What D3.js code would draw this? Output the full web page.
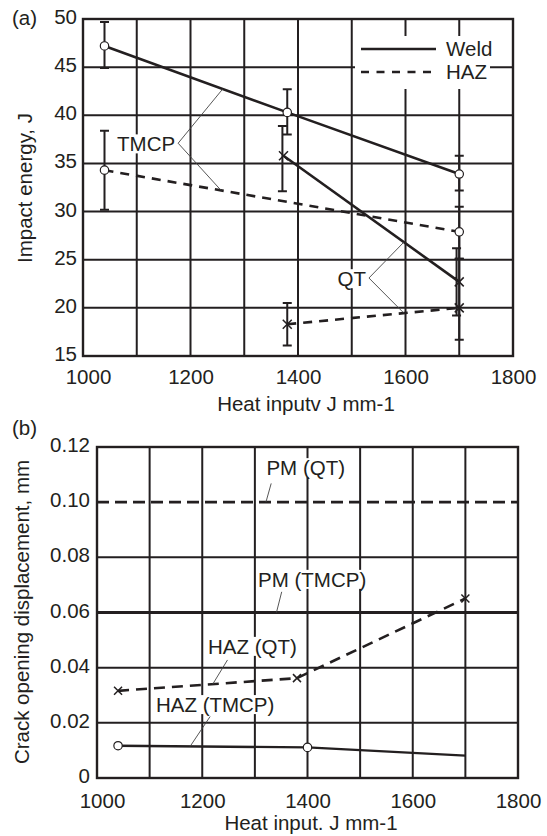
<!DOCTYPE html>
<html><head><meta charset="utf-8">
<script src="https://cdn.jsdelivr.net/npm/d3@7"></script>
<style>
html,body{margin:0;padding:0;background:#fff;}
svg{display:block;}
text{font-family:"Liberation Sans",Arial,Helvetica,sans-serif;fill:#231f20;}
</style></head>
<body><svg id="c" width="547" height="836"></svg>
<script>
// ---------- DATA: panel (a) ----------
const xTicksA = [1000,1200,1400,1600,1800];
const yTicksA = [15,20,25,30,35,40,45,50];
const tmcpWeldX = [1040,1380,1700];
const tmcpWeldY = [47.2,40.3,33.9];
const tmcpWeldLo = [44.9,38.0,32.2];
const tmcpWeldHi = [49.7,42.7,35.8];
const tmcpHazX = [1040,1700];
const tmcpHazY = [34.3,27.9];
const tmcpHazLo = [30.2,25.1];
const tmcpHazHi = [38.4,30.5];
const qtWeldX = [1373,1700];
const qtWeldY = [35.8,22.7];
const qtWeldErrX = [1371,1695];
const qtWeldLo = [32.1,19.2];
const qtWeldHi = [38.9,26.2];
const qtHazX = [1380,1700];
const qtHazY = [18.3,20.0];
const qtHazLo = [16.1,16.7];
const qtHazHi = [20.5,25.1];
const legendLabels = ["Weld","HAZ"];
// ---------- DATA: panel (b) ----------
const xTicksB = [1000,1200,1400,1600,1800];
const yTicksB = [0,0.02,0.04,0.06,0.08,0.10,0.12];
const yTickLabelsB = ["0","0.02","0.04","0.06","0.08","0.10","0.12"];
const pmQT = 0.10;
const pmTMCP = 0.06;
const hazQTX = [1040,1380,1700];
const hazQTY = [0.0316,0.0362,0.0651];
const hazTMCPX = [1040,1400,1700];
const hazTMCPY = [0.0117,0.0111,0.0081];
const hazTMCPMarked = [true,true,false];

const ink = "#231f20";
const svg = d3.select("#c");
const FS = 20.5;

function panelFrame(g, x, y, xGrid, yGrid){
  g.selectAll(".vg").data(xGrid).join("line")
    .attr("x1",d=>x(d)).attr("x2",d=>x(d)).attr("y1",y.range()[0]).attr("y2",y.range()[1])
    .attr("stroke",ink).attr("stroke-width",2);
  g.selectAll(".hg").data(yGrid).join("line")
    .attr("y1",d=>y(d)).attr("y2",d=>y(d)).attr("x1",x.range()[0]).attr("x2",x.range()[1])
    .attr("stroke",ink).attr("stroke-width",2);
}
function frame(g,x,y){
  g.append("rect").attr("x",x.range()[0]).attr("y",y.range()[1])
    .attr("width",x.range()[1]-x.range()[0]).attr("height",y.range()[0]-y.range()[1])
    .attr("fill","none").attr("stroke",ink).attr("stroke-width",2.4);
}
function labelBox(g, txt, xPos, yPos, anchor){
  const t = g.append("text").attr("x",xPos).attr("y",yPos).attr("dy","0.35em")
    .attr("text-anchor",anchor||"start").attr("font-size",FS).text(txt);
  const b = t.node().getBBox();
  g.insert("rect", function(){return t.node();})
    .attr("x",b.x-1).attr("y",b.y+2).attr("width",b.width+2).attr("height",b.height-4).attr("fill","#fff");
  return t;
}
function styleAxis(sel){
  sel.select(".domain").remove();
  sel.selectAll("text").attr("font-size",FS).attr("fill",ink)
     .style("font-family",'"Liberation Sans",Arial,sans-serif');
}
function cross(g, px, py, s){
  g.append("path").attr("d",`M${px-s},${py-s}L${px+s},${py+s}M${px-s},${py+s}L${px+s},${py-s}`)
   .attr("stroke",ink).attr("stroke-width",1.5).attr("fill","none");
}
function circ(g, px, py){
  g.append("circle").attr("cx",px).attr("cy",py).attr("r",4.2)
   .attr("fill","#fff").attr("stroke",ink).attr("stroke-width",1.2);
}
function errBar(g, px, lo, hi, y){
  const w=4.5;
  g.append("path").attr("d",`M${px},${y(hi)}L${px},${y(lo)}M${px-w},${y(hi)}L${px+w},${y(hi)}M${px-w},${y(lo)}L${px+w},${y(lo)}`)
   .attr("stroke",ink).attr("stroke-width",2).attr("fill","none");
}

// ================= PANEL (a) =================
const xA = d3.scaleLinear().domain([1000,1800]).range([83,513]);
const yA = d3.scaleLinear().domain([15,50]).range([356,19]);
const gA = svg.append("g");
panelFrame(gA, xA, yA, d3.range(1100,1800,100), [20,25,30,35,40,45]);

// legend white background
gA.append("rect").attr("x",355).attr("y",36).attr("width",135).attr("height",53).attr("fill","#fff");

const lineA = d3.line().x(d=>xA(d[0])).y(d=>yA(d[1]));
// error bars
tmcpWeldX.forEach((d,i)=>errBar(gA,xA(d),tmcpWeldLo[i],tmcpWeldHi[i],yA));
tmcpHazX.forEach((d,i)=>errBar(gA,xA(d),tmcpHazLo[i],tmcpHazHi[i],yA));
qtWeldErrX.forEach((d,i)=>errBar(gA,xA(d),qtWeldLo[i],qtWeldHi[i],yA));
qtHazX.forEach((d,i)=>errBar(gA,xA(d),qtHazLo[i],qtHazHi[i],yA));

gA.append("path").attr("d",lineA(d3.zip(tmcpWeldX,tmcpWeldY))).attr("fill","none").attr("stroke",ink).attr("stroke-width",2.6);
gA.append("path").attr("d",lineA(d3.zip(tmcpHazX,tmcpHazY))).attr("fill","none").attr("stroke",ink).attr("stroke-width",2.6).attr("stroke-dasharray","9,7");
gA.append("path").attr("d",lineA(d3.zip(qtWeldX,qtWeldY))).attr("fill","none").attr("stroke",ink).attr("stroke-width",2.6);
gA.append("path").attr("d",lineA(d3.zip(qtHazX,qtHazY))).attr("fill","none").attr("stroke",ink).attr("stroke-width",2.6).attr("stroke-dasharray","9,7");

tmcpWeldX.forEach((d,i)=>circ(gA,xA(d),yA(tmcpWeldY[i])));
tmcpHazX.forEach((d,i)=>circ(gA,xA(d),yA(tmcpHazY[i])));
qtWeldX.forEach((d,i)=>cross(gA,xA(d),yA(qtWeldY[i]),4.5));
qtHazX.forEach((d,i)=>cross(gA,xA(d),yA(qtHazY[i]),4.5));

// TMCP / QT callouts
function interp(xs,ys,xv){ return d3.scaleLinear().domain(xs).range(ys)(xv); }
const leadA = [
  {label:"TMCP", apex:[1177,37.1], ends:[[1260,interp(tmcpWeldX.slice(0,2),tmcpWeldY.slice(0,2),1260)],[1257,interp(tmcpHazX,tmcpHazY,1257)]]},
  {label:"QT", apex:[1532,23.1], ends:[[1597,interp(qtWeldX,qtWeldY,1597)],[1597,interp(qtHazX,qtHazY,1597)]]}
];
leadA.forEach(L=>{
  L.ends.forEach(e=>{
    gA.append("line").attr("x1",xA(L.apex[0])).attr("y1",yA(L.apex[1])).attr("x2",xA(e[0])).attr("y2",yA(e[1]))
      .attr("stroke","#444").attr("stroke-width",0.9);
  });
  labelBox(gA, L.label, xA(L.apex[0])-3, yA(L.apex[1])+1, "end");
});

// legend
gA.append("line").attr("x1",361).attr("x2",436).attr("y1",49).attr("y2",49).attr("stroke",ink).attr("stroke-width",2.6);
gA.append("line").attr("x1",361).attr("x2",436).attr("y1",72).attr("y2",72).attr("stroke",ink).attr("stroke-width",2.6).attr("stroke-dasharray","8,7.5");
legendLabels.forEach((t,i)=>gA.append("text").attr("x",446).attr("y",49+i*23).attr("dy","0.35em").attr("font-size",FS).text(t));

frame(gA,xA,yA);

const axA = gA.append("g").attr("transform",`translate(0,356)`)
  .call(d3.axisBottom(xA).tickValues(xTicksA).tickSize(0).tickPadding(13).tickFormat(d3.format("d")));
styleAxis(axA);
axA.select(".tick text").attr("x",5);
const ayA = gA.append("g").attr("transform",`translate(83,0)`)
  .call(d3.axisLeft(yA).tickValues(yTicksA).tickSize(0).tickPadding(6));
styleAxis(ayA);
ayA.selectAll("text").attr("dy","0.22em");

gA.append("text").attr("x",306).attr("y",404).attr("dy","0.35em").attr("text-anchor","middle").attr("font-size",FS).text("Heat inputv J mm-1");
gA.append("text").attr("transform","translate(25,188) rotate(-90)").attr("dy","0.35em").attr("text-anchor","middle").attr("font-size",FS).text("Impact energy, J");
gA.append("text").attr("x",12).attr("y",18).attr("dy","0.35em").attr("font-size",FS).text("(a)");

// ================= PANEL (b) =================
const xB = d3.scaleLinear().domain([1000,1800]).range([97,518]);
const yB = d3.scaleLinear().domain([0,0.12]).range([778,447]);
const gB = svg.append("g");
panelFrame(gB, xB, yB, d3.range(1100,1800,100), [0.02,0.04,0.08]);

const lineB = d3.line().x(d=>xB(d[0])).y(d=>yB(d[1]));
gB.append("path").attr("d",lineB([[1000,pmQT],[1800,pmQT]])).attr("fill","none").attr("stroke",ink).attr("stroke-width",2.6).attr("stroke-dasharray","12,6");
gB.append("path").attr("d",lineB([[1000,pmTMCP],[1800,pmTMCP]])).attr("fill","none").attr("stroke",ink).attr("stroke-width",3.2);
gB.append("path").attr("d",lineB(d3.zip(hazQTX,hazQTY))).attr("fill","none").attr("stroke",ink).attr("stroke-width",2.6).attr("stroke-dasharray","11,7");
gB.append("path").attr("d",lineB(d3.zip(hazTMCPX,hazTMCPY))).attr("fill","none").attr("stroke",ink).attr("stroke-width",2.4);
hazQTX.forEach((d,i)=>cross(gB,xB(d),yB(hazQTY[i]),4));
hazTMCPX.forEach((d,i)=>{ if(hazTMCPMarked[i]) circ(gB,xB(d),yB(hazTMCPY[i])); });

const leadB = [
  {label:"PM (QT)", text:[1322,0.1124], from:[1331,0.1068], to:[1321,pmQT]},
  {label:"PM (TMCP)", text:[1306,0.0719], from:[1351,0.0675], to:[1341,pmTMCP]},
  {label:"HAZ (QT)", text:[1211,0.0476], from:[1248,0.0428], to:[1220,interp(hazQTX.slice(0,2),hazQTY.slice(0,2),1220)]},
  {label:"HAZ (TMCP)", text:[1112,0.0265], from:[1215,0.0223], to:[1177,interp(hazTMCPX.slice(0,2),hazTMCPY.slice(0,2),1177)]}
];
leadB.forEach(L=>{
  gB.append("line").attr("x1",xB(L.from[0])).attr("y1",yB(L.from[1])).attr("x2",xB(L.to[0])).attr("y2",yB(L.to[1]))
    .attr("stroke","#444").attr("stroke-width",0.9);
  labelBox(gB, L.label, xB(L.text[0]), yB(L.text[1]), "start");
});

frame(gB,xB,yB);

const axB = gB.append("g").attr("transform",`translate(0,778)`)
  .call(d3.axisBottom(xB).tickValues(xTicksB).tickSize(0).tickPadding(15).tickFormat(d3.format("d")));
styleAxis(axB);
axB.select(".tick text").attr("x",5);
const ayB = gB.append("g").attr("transform",`translate(97,0)`)
  .call(d3.axisLeft(yB).tickValues(yTicksB).tickSize(0).tickPadding(7).tickFormat((d,i)=>yTickLabelsB[i]));
styleAxis(ayB);
ayB.selectAll("text").attr("dy","0.22em");

gB.append("text").attr("x",311).attr("y",823).attr("dy","0.35em").attr("text-anchor","middle").attr("font-size",FS).text("Heat input. J mm-1");
gB.append("text").attr("transform","translate(22,612) rotate(-90)").attr("dy","0.35em").attr("text-anchor","middle").attr("font-size",FS).text("Crack opening displacement, mm");
gB.append("text").attr("x",12).attr("y",428).attr("dy","0.35em").attr("font-size",FS).text("(b)");
</script></body></html>
